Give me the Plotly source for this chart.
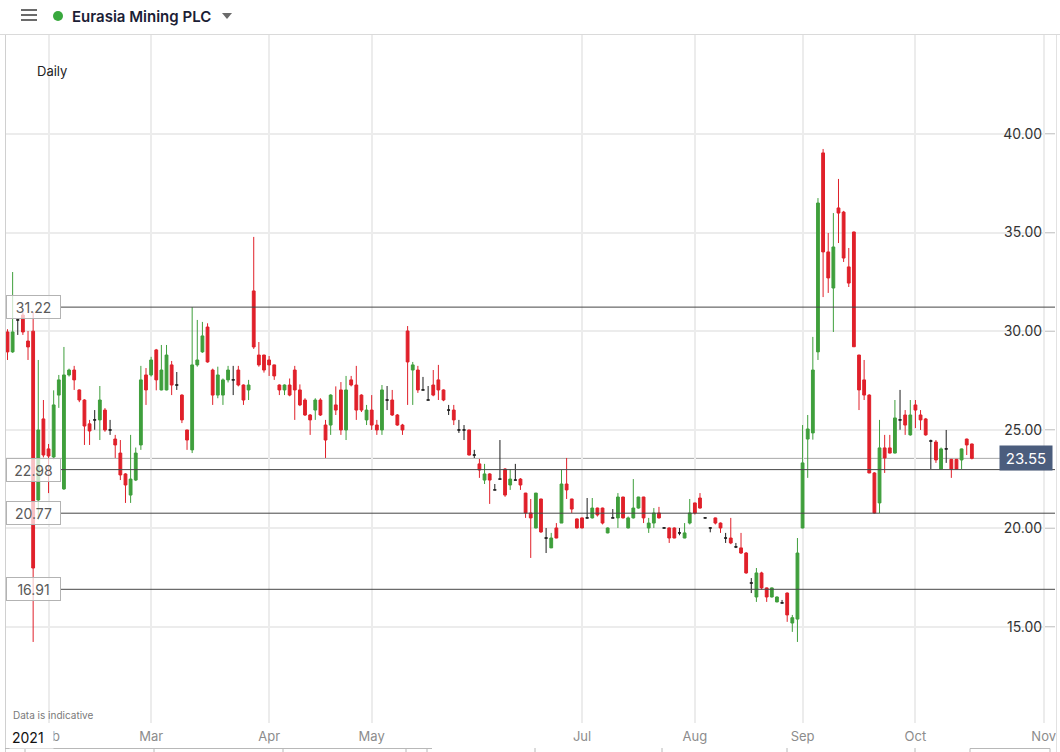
import plotly.graph_objects as go
import pandas as pd

# ---------------- data ----------------
dates = [
    "2021-01-20", "2021-01-21", "2021-01-22", "2021-01-25", "2021-01-26", "2021-01-27", "2021-01-28", "2021-01-29",
    "2021-02-01", "2021-02-02", "2021-02-03", "2021-02-04", "2021-02-05", "2021-02-08", "2021-02-09", "2021-02-10",
    "2021-02-11", "2021-02-12", "2021-02-15", "2021-02-16", "2021-02-17", "2021-02-18", "2021-02-19", "2021-02-22",
    "2021-02-23", "2021-02-24", "2021-02-25", "2021-02-26",
    "2021-03-01", "2021-03-02", "2021-03-03", "2021-03-04", "2021-03-05", "2021-03-08", "2021-03-09", "2021-03-10",
    "2021-03-11", "2021-03-12", "2021-03-15", "2021-03-16", "2021-03-17", "2021-03-18", "2021-03-19", "2021-03-22",
    "2021-03-23", "2021-03-24", "2021-03-25", "2021-03-26", "2021-03-29", "2021-03-30", "2021-03-31",
    "2021-04-01", "2021-04-06", "2021-04-07", "2021-04-08", "2021-04-09", "2021-04-12", "2021-04-13", "2021-04-14",
    "2021-04-15", "2021-04-16", "2021-04-19", "2021-04-20", "2021-04-21", "2021-04-22", "2021-04-23", "2021-04-26",
    "2021-04-27", "2021-04-28", "2021-04-29", "2021-04-30",
    "2021-05-04", "2021-05-05", "2021-05-06", "2021-05-07", "2021-05-10", "2021-05-11", "2021-05-12", "2021-05-13",
    "2021-05-14", "2021-05-17", "2021-05-18", "2021-05-19", "2021-05-20", "2021-05-21", "2021-05-24", "2021-05-25",
    "2021-05-26", "2021-05-27", "2021-05-28",
    "2021-06-01", "2021-06-02", "2021-06-03", "2021-06-04", "2021-06-07", "2021-06-08", "2021-06-09", "2021-06-10",
    "2021-06-11", "2021-06-14", "2021-06-15", "2021-06-16", "2021-06-17", "2021-06-18", "2021-06-21", "2021-06-22",
    "2021-06-23", "2021-06-24", "2021-06-25", "2021-06-28", "2021-06-29", "2021-06-30",
    "2021-07-01", "2021-07-02", "2021-07-05", "2021-07-06", "2021-07-07", "2021-07-08", "2021-07-09", "2021-07-12",
    "2021-07-13", "2021-07-14", "2021-07-15", "2021-07-16", "2021-07-19", "2021-07-20", "2021-07-21", "2021-07-22",
    "2021-07-23", "2021-07-26", "2021-07-27", "2021-07-28", "2021-07-29", "2021-07-30",
    "2021-08-02", "2021-08-03", "2021-08-04", "2021-08-05", "2021-08-06", "2021-08-09", "2021-08-10", "2021-08-11",
    "2021-08-12", "2021-08-13", "2021-08-16", "2021-08-17", "2021-08-18", "2021-08-19", "2021-08-20", "2021-08-23",
    "2021-08-24", "2021-08-25", "2021-08-26", "2021-08-27", "2021-08-31",
    "2021-09-01", "2021-09-02", "2021-09-03", "2021-09-06", "2021-09-07", "2021-09-08", "2021-09-09", "2021-09-10",
    "2021-09-13", "2021-09-14", "2021-09-15", "2021-09-16", "2021-09-17", "2021-09-20", "2021-09-21", "2021-09-22",
    "2021-09-23", "2021-09-24", "2021-09-27", "2021-09-28", "2021-09-29", "2021-09-30",
    "2021-10-01", "2021-10-04", "2021-10-05", "2021-10-06", "2021-10-07", "2021-10-08", "2021-10-11", "2021-10-12",
    "2021-10-13", "2021-10-14", "2021-10-15", "2021-10-18",
]

opens = [
    29.96, 28.95, 30.57, 30.82, 29.50, 30.00, 21.44, 25.55,
    24.03, 23.62, 26.76, 22.00, 27.78, 28.03, 27.02, 26.51, 25.30, 25.50, 25.50, 26.00, 24.99, 24.53, 23.82, 22.76,
    21.69, 22.45, 24.23, 27.78,
    27.78, 29.05, 27.02, 27.02, 28.29, 27.27, 26.76, 24.99, 23.98, 28.29, 28.95, 30.21, 28.03, 26.76, 26.76, 27.53,
    27.53, 28.03, 27.27, 27.02, 32.04, 28.79, 28.79,
    28.54, 28.29, 27.27, 27.02, 27.27, 28.03, 27.02, 26.51, 25.75, 26.00, 26.51, 25.24, 25.24, 26.26, 27.02, 24.99,
    27.53, 27.27, 26.76, 25.50,
    26.00, 25.24, 24.99, 26.51, 26.51, 25.75, 25.24, 30.01, 28.03, 28.03, 27.02, 26.51, 27.27, 27.53, 27.02, 26.00,
    26.00, 24.99, 24.99,
    24.99, 23.72, 23.27, 22.45, 22.76, 21.95, 22.50, 23.01, 22.20, 22.45, 22.50, 21.79, 20.78, 20.02, 21.49, 19.51,
    19.01, 20.02, 20.27, 22.25, 21.49, 20.48,
    20.53, 20.53, 20.53, 21.03, 21.03, 19.77, 20.53, 20.53, 21.59, 20.02, 20.53, 21.03, 21.59, 20.02, 20.27, 20.78,
    20.02, 20.02, 20.02, 19.77, 19.51, 20.27,
    21.29, 21.54, 20.53, 20.02, 20.53, 20.27, 19.51, 19.51, 19.06, 19.01, 18.75, 17.23, 16.52, 17.74, 16.98, 16.52,
    16.27, 16.22, 16.72, 15.20, 15.40,
    20.02, 24.53, 24.84, 28.95, 39.04, 34.02, 32.19, 36.25, 36.04, 33.26, 35.03, 28.79, 27.53, 26.76, 22.81,
    21.29, 24.08, 24.08, 23.82, 25.50, 25.75, 24.74,
    26.26, 25.75, 25.55, 24.43, 24.38, 23.01, 24.03, 23.50, 23.50, 23.47, 24.53, 24.28,
]

highs = [
    30.10, 33.00, 30.67, 30.97, 30.01, 30.97, 28.54, 26.51,
    24.28, 27.00, 27.78, 29.20, 28.10, 28.24, 27.05, 26.55, 25.50, 26.00, 27.22, 26.10, 25.50, 24.74, 24.48, 22.80,
    24.74, 24.10, 28.24, 28.13,
    28.70, 29.10, 29.30, 29.30, 28.49, 27.93, 26.80, 25.00, 31.22, 30.57, 30.47, 30.40, 28.10, 28.20, 27.60, 28.24,
    28.24, 28.24, 27.30, 27.53, 34.78, 29.45, 28.80,
    28.74, 28.30, 27.30, 27.30, 27.60, 28.24, 27.30, 26.60, 25.80, 26.60, 26.60, 25.50, 26.80, 27.20, 27.42, 27.73,
    27.73, 28.24, 26.80, 26.26,
    26.76, 25.50, 27.27, 27.22, 27.02, 25.80, 25.30, 30.26, 28.44, 28.24, 27.68, 27.22, 28.03, 28.29, 27.05, 26.26,
    26.26, 25.50, 25.24,
    25.00, 23.98, 23.52, 23.27, 22.80, 22.25, 24.48, 23.05, 23.01, 23.27, 22.55, 21.80, 21.49, 21.80, 21.50, 20.02,
    19.77, 20.27, 22.96, 23.57, 21.50, 20.50,
    20.55, 21.54, 21.54, 21.05, 21.05, 20.05, 20.98, 21.79, 21.60, 20.60, 22.50, 21.60, 21.60, 20.53, 21.03, 21.09,
    20.05, 20.05, 20.05, 20.02, 20.27, 21.49,
    21.30, 21.79, 20.55, 20.05, 20.55, 20.30, 19.77, 20.53, 19.26, 19.77, 18.80, 17.48, 17.99, 17.80, 17.00, 17.00,
    16.55, 16.37, 16.75, 15.61, 19.51,
    25.24, 25.75, 29.71, 36.75, 39.24, 34.98, 35.99, 37.72, 36.10, 34.22, 35.05, 28.80, 28.54, 26.80, 22.85,
    25.50, 24.74, 24.74, 26.51, 27.02, 26.00, 26.51,
    26.51, 26.00, 25.60, 24.50, 24.48, 24.10, 24.99, 23.52, 23.52, 24.05, 24.55, 24.30,
]

lows = [
    28.54, 28.90, 29.81, 29.81, 28.54, 14.24, 20.43, 23.60,
    21.79, 23.50, 26.11, 21.95, 27.70, 27.02, 26.40, 24.23, 24.23, 25.00, 24.48, 24.90, 24.74, 23.57, 22.45, 21.29,
    21.29, 22.40, 23.98, 26.26,
    27.70, 27.00, 27.00, 27.00, 26.76, 27.02, 25.34, 23.98, 23.82, 28.20, 28.90, 28.40, 26.26, 26.60, 26.26, 27.40,
    26.76, 27.20, 26.26, 26.51, 29.10, 28.20, 27.90,
    27.73, 27.53, 26.76, 26.76, 26.70, 25.50, 26.20, 25.70, 24.74, 25.50, 25.70, 23.57, 24.74, 25.75, 24.74, 24.48,
    27.20, 25.50, 25.90, 25.24,
    24.99, 24.74, 24.74, 26.00, 25.70, 25.20, 24.74, 26.26, 26.26, 26.87, 27.00, 26.51, 26.70, 26.51, 26.45, 25.75,
    25.24, 24.84, 24.48,
    23.70, 23.57, 22.56, 22.25, 21.24, 21.95, 22.50, 21.60, 21.95, 22.45, 21.95, 20.53, 18.50, 20.00, 19.77, 18.75,
    19.00, 19.50, 20.27, 21.49, 20.78, 20.00,
    20.00, 20.50, 20.50, 20.60, 20.20, 19.75, 20.53, 20.02, 20.50, 20.00, 20.50, 21.00, 20.27, 19.77, 20.02, 20.50,
    20.00, 19.26, 19.50, 19.65, 19.50, 20.20,
    20.70, 21.00, 20.50, 19.80, 20.20, 19.77, 19.26, 19.20, 19.00, 18.70, 17.70, 16.72, 16.27, 16.90, 16.27, 16.50,
    16.25, 16.20, 15.26, 14.75, 14.24,
    20.00, 22.56, 24.50, 28.54, 31.73, 31.94, 29.96, 34.47, 33.51, 32.24, 29.20, 26.00, 26.51, 22.80, 20.75,
    20.78, 22.81, 23.80, 23.80, 25.00, 24.74, 24.70,
    25.09, 24.99, 24.70, 23.01, 23.32, 23.00, 23.32, 22.56, 23.00, 23.01, 23.72, 23.50,
]

closes = [
    28.95, 29.96, 30.57, 29.96, 29.20, 17.99, 24.99, 23.72,
    23.67, 26.26, 27.53, 27.78, 28.03, 27.53, 26.51, 25.19, 24.94, 25.50, 26.51, 24.99, 24.99, 24.23, 22.71, 22.20,
    22.50, 23.82, 27.53, 27.02,
    28.54, 27.53, 28.03, 28.79, 27.27, 27.27, 25.50, 24.48, 28.29, 28.54, 29.76, 28.44, 26.76, 27.78, 27.53, 28.03,
    27.53, 27.27, 26.51, 27.27, 29.20, 28.29, 28.03,
    28.29, 27.73, 27.02, 27.27, 26.76, 27.02, 26.26, 25.75, 25.50, 26.51, 25.75, 24.48, 26.76, 26.00, 24.99, 27.02,
    27.27, 26.00, 26.00, 26.00,
    25.24, 24.99, 27.02, 26.51, 25.75, 25.24, 24.99, 28.44, 28.29, 27.02, 27.02, 26.51, 26.76, 27.02, 26.51, 26.00,
    25.50, 24.99, 24.99,
    23.72, 23.72, 22.96, 22.76, 22.45, 21.95, 22.50, 21.69, 22.50, 22.45, 22.20, 20.78, 20.53, 21.79, 19.82, 19.51,
    19.51, 19.51, 22.25, 21.95, 20.98, 20.02,
    20.02, 20.53, 21.03, 20.68, 20.27, 20.02, 20.53, 21.59, 20.53, 20.53, 21.03, 21.59, 20.53, 20.27, 20.78, 20.53,
    20.02, 19.51, 19.51, 19.77, 19.77, 20.78,
    20.78, 21.03, 20.53, 20.02, 20.27, 20.02, 19.51, 19.26, 19.06, 18.75, 17.74, 17.23, 17.74, 16.98, 16.52, 16.98,
    16.52, 16.22, 15.61, 15.47, 18.75,
    23.32, 25.04, 28.03, 36.50, 34.02, 32.70, 34.27, 35.99, 33.71, 32.44, 29.21, 27.02, 26.76, 22.81, 20.78,
    24.08, 23.57, 23.82, 25.60, 25.50, 25.24, 25.75,
    26.00, 25.50, 24.74, 24.43, 23.47, 24.03, 24.03, 23.01, 23.01, 24.03, 24.23, 23.55,
]

level_values = [31.22, 22.98, 20.77, 16.91]
last_price = 23.55
price_ticks = [15, 20, 25, 30, 35, 40]
tick_dates = ["2021-02-01", "2021-03-01", "2021-04-01", "2021-05-04", "2021-07-01",
              "2021-08-02", "2021-09-01", "2021-10-01", "2021-11-01"]
tick_labels = ["Feb", "Mar", "Apr", "May", "Jul", "Aug", "Sep", "Oct", "Nov"]
holidays = ["2021-04-02", "2021-04-05", "2021-05-03", "2021-05-31", "2021-08-30"]

# ---------------- styling helpers ----------------
GREEN = "#3f9f3c"
RED = "#e0202a"
DOJI = "#1e1e1e"
FONT = "Inter, Open Sans, sans-serif"

W, H = 1060, 752
ML, MR, MT, MB = 5, 5, 35, 29
Y_RANGE = [10.13, 45.02]


def xp(px):
    return (px - ML) / (W - ML - MR)


def yp(py):
    return (H - MB - py) / (H - MT - MB)


up = [i for i in range(len(dates)) if closes[i] > opens[i]]
down = [i for i in range(len(dates)) if closes[i] < opens[i]]
flat = [i for i in range(len(dates)) if closes[i] == opens[i]]


def subset(idx):
    return dict(
        x=[dates[i] for i in idx],
        open=[opens[i] for i in idx],
        high=[highs[i] for i in idx],
        low=[lows[i] for i in idx],
        close=[closes[i] for i in idx],
    )


fig = go.Figure()
for idx, col in ((up, GREEN), (down, RED), (flat, DOJI)):
    fig.add_trace(go.Candlestick(
        **subset(idx),
        increasing=dict(line=dict(color=col, width=1), fillcolor=col),
        decreasing=dict(line=dict(color=col, width=1), fillcolor=col),
        whiskerwidth=0,
        showlegend=False,
    ))
# empty helper trace so the price-label axis (y2) is drawn
fig.add_trace(go.Scatter(x=[], y=[], yaxis="y2", showlegend=False, hoverinfo="skip"))

# weekend / holiday breaks only within the traded span
span = pd.date_range(pd.Timestamp(dates[0]) - pd.Timedelta(days=4), pd.Timestamp(dates[-1]))
breaks = [d.strftime("%Y-%m-%d") for d in span if d.weekday() >= 5] + holidays

shapes = []
annotations = []

# header
shapes.append(dict(type="line", xref="paper", yref="paper", x0=xp(0), x1=xp(W), y0=yp(34.5), y1=yp(34.5),
                   line=dict(color="#dadada", width=1)))
for yy in (10, 15, 20):
    shapes.append(dict(type="line", xref="paper", yref="paper", x0=xp(21), x1=xp(37), y0=yp(yy), y1=yp(yy),
                       line=dict(color="#6b6b6b", width=2)))
shapes.append(dict(type="circle", xref="paper", yref="paper", x0=xp(53), x1=xp(63), y0=yp(21), y1=yp(11),
                   fillcolor="#38a83d", line=dict(width=0)))
tri = "M {},{} L {},{} L {},{} Z".format(xp(222), yp(13), xp(232), yp(13), xp(227), yp(19))
shapes.append(dict(type="path", xref="paper", yref="paper", path=tri, fillcolor="#6b6b6b", line=dict(width=0)))
annotations.append(dict(x=xp(70), y=yp(16), xref="paper", yref="paper", text="Eurasia Mining PLC",
                        showarrow=False, xanchor="left", yanchor="middle",
                        font=dict(family=FONT, size=15, color="#1b2035", weight=600)))

# frame lines
shapes.append(dict(type="line", xref="paper", yref="paper", x0=xp(5.5), x1=xp(5.5), y0=yp(35), y1=yp(H),
                   line=dict(color="#d0d0d0", width=1)))
shapes.append(dict(type="line", xref="paper", yref="paper", x0=xp(1056.5), x1=xp(1056.5), y0=yp(35), y1=yp(H),
                   line=dict(color="#e2e2e2", width=1)))

# bottom navigator strip (partly visible)
shapes.append(dict(type="line", xref="paper", yref="paper", x0=xp(5), x1=xp(432), y0=yp(748.5), y1=yp(748.5),
                   line=dict(color="#b8b8b8", width=1)))
for tx in (25, 154, 283, 406, 427, 535, 662, 787, 915):
    shapes.append(dict(type="line", xref="paper", yref="paper", x0=xp(tx), x1=xp(tx), y0=yp(748), y1=yp(752),
                       line=dict(color="#b8b8b8", width=1)))
shapes.append(dict(type="rect", xref="paper", yref="paper", x0=xp(970), x1=xp(1050), y0=yp(753), y1=yp(748.5),
                   line=dict(color="#b8b8b8", width=1)))

# last-price line and label
shapes.append(dict(type="line", xref="paper", yref="y", x0=xp(5), x1=xp(1000), y0=last_price, y1=last_price,
                   line=dict(color="#a8a8a8", width=1), layer="below"))
annotations.append(dict(x=xp(1026), y=last_price, xref="paper", yref="y", text=f"{last_price:.2f}",
                        showarrow=False, xanchor="center", yanchor="middle", bgcolor="#4b5d7d",
                        borderpad=3, width=46, height=18,
                        font=dict(family=FONT, size=15, color="#ffffff")))

# horizontal levels with left labels
for v in level_values:
    shapes.append(dict(type="line", xref="paper", yref="y", x0=xp(61), x1=xp(1055), y0=v, y1=v,
                       line=dict(color="#464646", width=1)))
    annotations.append(dict(x=xp(33.5), y=v, xref="paper", yref="y", text=f"{v:.2f}", showarrow=False,
                            xanchor="center", yanchor="middle", bgcolor="rgba(255,255,255,0.72)",
                            bordercolor="#b3b3b3", borderwidth=1, borderpad=1, width=51, height=20,
                            font=dict(family=FONT, size=14, color="#5a5a5a")))

# text labels
annotations.append(dict(x=xp(35), y=yp(71), xref="paper", yref="paper", text="Daily", showarrow=False,
                        xanchor="left", yanchor="middle", font=dict(family=FONT, size=13, color="#222222")))
annotations.append(dict(x=xp(11), y=yp(715), xref="paper", yref="paper", text="Data is indicative",
                        showarrow=False, xanchor="left", yanchor="middle",
                        font=dict(family=FONT, size=10, color="#7a7a7a")))
annotations.append(dict(x=xp(9), y=yp(737), xref="paper", yref="paper", text="2021", showarrow=False,
                        xanchor="left", yanchor="middle", align="left", bgcolor="#ffffff",
                        borderpad=2, width=39,
                        font=dict(family=FONT, size=14, color="#111111")))

fig.update_layout(
    width=W, height=H,
    margin=dict(l=ML, r=MR, t=MT, b=MB),
    paper_bgcolor="#ffffff", plot_bgcolor="#ffffff",
    font=dict(family=FONT),
    boxgap=0.22,
    showlegend=False,
    shapes=shapes,
    annotations=annotations,
    xaxis=dict(
        type="date",
        range=["2021-01-19 12:18", "2021-11-03 05:00"],
        rangebreaks=[dict(values=breaks, dvalue=86400000)],
        rangeslider=dict(visible=False),
        tickmode="array", tickvals=tick_dates, ticktext=tick_labels,
        showgrid=True, gridcolor="#ececec", gridwidth=1.5,
        zeroline=False, showline=False, ticks="",
        ticklabelstandoff=4, ticklabeloverflow="allow",
        tickfont=dict(family=FONT, size=13, color="#8c8c8c"),
        automargin=False,
    ),
    yaxis=dict(
        side="right",
        range=Y_RANGE,
        tickmode="array", tickvals=price_ticks,
        showticklabels=False, ticks="",
        showgrid=True, gridcolor="#ececec", gridwidth=1.5,
        zeroline=False, showline=False,
        automargin=False,
    ),
    yaxis2=dict(
        overlaying="y", anchor="free", position=1.0, side="left",
        range=Y_RANGE,
        tickmode="array", tickvals=price_ticks, tickformat=".2f",
        ticks="outside", ticklen=10, tickcolor="#cfcfcf",
        showgrid=False, zeroline=False, showline=False,
        tickfont=dict(family=FONT, size=14, color="#333333"),
        automargin=False,
    ),
)

fig.write_html(
    "out.html",
    config={"displayModeBar": False},
    post_script="document.body.style.margin='0px';document.body.style.padding='0px';",
)
